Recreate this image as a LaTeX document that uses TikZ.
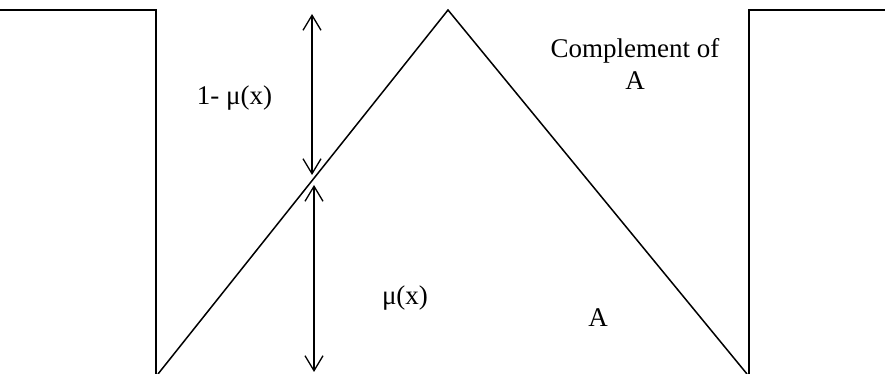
\documentclass[tikz,border=0pt]{standalone}
\usepackage{fontspec}
\setmainfont{Liberation Serif}
\usetikzlibrary{arrows.meta}
\begin{document}
\begin{tikzpicture}[x=1pt,y=1pt,
  ln/.style={line width=1.5pt, line join=miter},
  dbl/.style={line width=1.3pt, {Straight Barb[length=15pt,width=18pt,line width=1.3pt]}-{Straight Barb[length=15pt,width=18pt,line width=1.3pt]}},
  lbl/.style={font=\fontsize{27}{32}\selectfont, inner sep=0pt, anchor=base}]
\useasboundingbox (0,0) rectangle (885,374);
% outer complement shape
\coordinate (l0) at (-2,364);
\coordinate (l1) at (156,364);
\coordinate (l2) at (156,-2);
\coordinate (r0) at (749,-2);
\coordinate (r1) at (749,364);
\coordinate (r2) at (887,364);
\draw[ln] (l0) -- (l1) -- (l2);
\draw[ln] (r0) -- (r1) -- (r2);
% triangle
\coordinate (t0) at (158,0);
\coordinate (apex) at (448,364);
\coordinate (t2) at (747,0);
\draw[ln] (t0) -- (apex) -- (t2);
% arrows
\coordinate (ua) at (312,360);
\coordinate (ub) at (312,199);
\coordinate (la) at (314,189);
\coordinate (lb) at (314,2);
\draw[dbl] (ua) -- (ub);
\draw[dbl] (la) -- (lb);
% labels
\node[lbl] (oneminus) at (234.5,269) {1- μ(x)};
\node[lbl] (compl) at (635,316) {Complement of};
\node[lbl] (compA) at (635,284) {A};
\node[lbl] (mu) at (405,69) {μ(x)};
\node[lbl] (setA) at (598,47) {A};
\end{tikzpicture}
\end{document}
